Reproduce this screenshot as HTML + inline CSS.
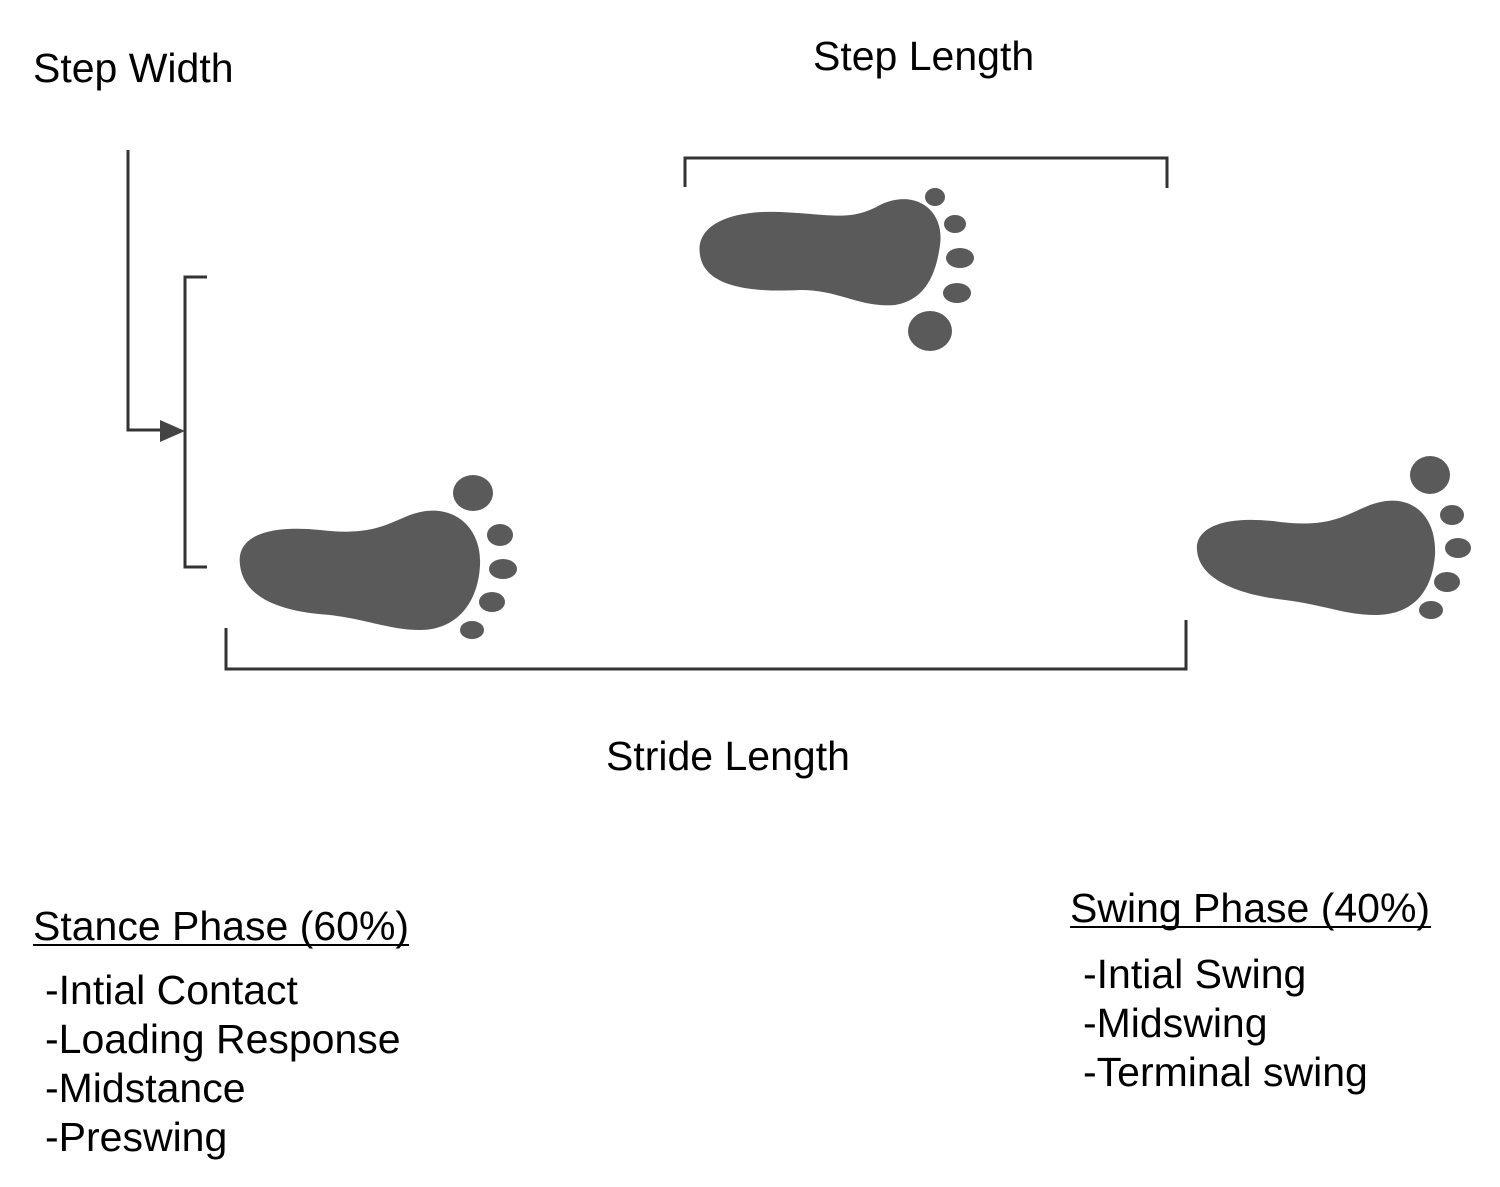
<!DOCTYPE html>
<html><head><meta charset="utf-8"><style>
html,body{margin:0;padding:0;background:#fff;}
svg{display:block;}
text{font-family:"Liberation Sans",Arial,sans-serif;fill:#000;font-size:41px;}
</style></head><body>
<svg width="1500" height="1187" viewBox="0 0 1500 1187" xmlns="http://www.w3.org/2000/svg">
<g fill="#5a5a5a">
<path d="M700,255 C695,225 730,210 780,212 C830,214 850,222 880,205 C915,188 945,210 940,245 C936,275 925,300 895,305 C860,308 840,290 800,290 C760,292 705,290 700,255 Z"/>
<ellipse cx="935" cy="197" rx="10" ry="9"/>
<ellipse cx="955" cy="224" rx="11" ry="9"/>
<ellipse cx="960" cy="258" rx="14" ry="10"/>
<ellipse cx="957" cy="293" rx="14" ry="10"/>
<ellipse cx="930" cy="331" rx="22" ry="20"/>
<path d="M240,565 C236,535 270,525 320,530 C370,536 385,525 410,515 C450,500 482,525 480,565 C478,605 455,630 420,630 C390,630 370,620 330,615 C285,612 244,600 240,565 Z"/>
<ellipse cx="473" cy="493" rx="20" ry="18"/>
<ellipse cx="500" cy="535" rx="13" ry="11"/>
<ellipse cx="503" cy="569" rx="14" ry="10"/>
<ellipse cx="492" cy="602" rx="13" ry="10"/>
<ellipse cx="472" cy="630" rx="12" ry="9"/>
<path d="M1197,550 C1195,525 1230,515 1280,522 C1330,528 1345,515 1370,505 C1410,490 1437,515 1435,555 C1432,595 1410,615 1375,615 C1345,615 1325,605 1285,600 C1240,595 1199,580 1197,550 Z"/>
<ellipse cx="1430" cy="475" rx="20" ry="19"/>
<ellipse cx="1452" cy="515" rx="12" ry="10"/>
<ellipse cx="1458" cy="548" rx="13" ry="10"/>
<ellipse cx="1447" cy="582" rx="13" ry="10"/>
<ellipse cx="1431" cy="610" rx="12" ry="9"/>
</g>
<g stroke="#333" fill="none" stroke-width="3">
<path d="M685,187 V158 H1167 V188"/>
<path d="M226,628 V669 H1186 V620"/>
<path d="M128,150 V430 H168"/>
<path d="M207,277 H185 V567 H207"/>
</g>
<polygon points="160,420 185,431 160,442" fill="#444"/>
<text x="33" y="82">Step Width</text>
<text x="813" y="70">Step Length</text>
<text x="606" y="770">Stride Length</text>
<text x="33" y="940">Stance Phase (60%)</text>
<line x1="33" y1="945" x2="409" y2="945" stroke="#000" stroke-width="2"/>
<text x="45" y="1004">-Intial Contact</text>
<text x="45" y="1053">-Loading Response</text>
<text x="45" y="1102">-Midstance</text>
<text x="45" y="1151">-Preswing</text>
<text x="1070" y="922">Swing Phase (40%)</text>
<line x1="1070" y1="927" x2="1431" y2="927" stroke="#000" stroke-width="2"/>
<text x="1083" y="988">-Intial Swing</text>
<text x="1083" y="1037">-Midswing</text>
<text x="1083" y="1086">-Terminal swing</text>
</svg>
</body></html>
